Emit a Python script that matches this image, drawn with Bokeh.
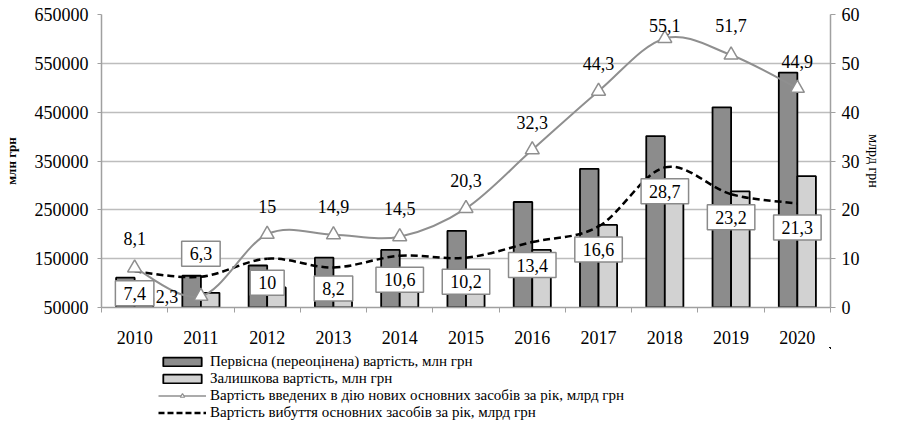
from bokeh.plotting import figure
from bokeh.layouts import column
from bokeh.models import (Range1d, LinearAxis, FixedTicker, ColumnDataSource,
                          Legend, LegendItem, BasicTickFormatter)
from bokeh.core.properties import value
from bokeh.embed import file_html
from bokeh.resources import INLINE

years = ["2010", "2011", "2012", "2013", "2014", "2015", "2016", "2017", "2018", "2019", "2020"]
original_cost = [111000, 115000, 136000, 152000, 168000, 207000, 266000, 334000, 401000, 460000, 531000]
residual_cost = [70000, 80000, 91000, 97000, 105000, 116000, 168000, 219000, 280000, 288000, 319000]
new_assets = [8.1, 2.3, 15, 14.9, 14.5, 20.3, 32.3, 44.3, 55.1, 51.7, 44.9]
disposed = [7.4, 6.3, 10, 8.2, 10.6, 10.2, 13.4, 16.6, 28.7, 23.2, 21.3]

new_labels = ["8,1", "2,3", "15", "14,9", "14,5", "20,3", "32,3", "44,3", "55,1", "51,7", "44,9"]
disp_labels = ["7,4", "6,3", "10", "8,2", "10,6", "10,2", "13,4", "16,6", "28,7", "23,2", "21,3"]
series_names = ["Первісна (переоцінена) вартість, млн грн",
                "Залишкова вартість, млн грн",
                "Вартість введених в дію нових основних засобів за рік, млрд грн",
                "Вартість вибуття основних засобів за рік, млрд грн"]

# label placement (screen px offsets, positive = down)
new_dx = [0, -34, 0, 0, 0, 0, 0, 0, 0, 0, 0]
new_dy = [-29, 0, -28, -28, -28, -28, -27, -28, -13, -30, -27]
disp_dy = [22, -23, 24, 21, 24, 24, 23, 23, 24, 23, 24]

FONT = "Liberation Serif, serif"
FS = "18px"
DARK = "#8c8c8c"
LIGHT = "#d2d2d2"
GRID = "#bdbdbd"
AXIS = "#a0a0a0"
LINE_GRAY = "#8f8f8f"

n = len(years)
idx = list(range(n))
bw = 0.28

p = figure(width=883, height=347, output_backend="svg", toolbar_location=None,
           x_range=Range1d(-0.5, n - 0.5), y_range=Range1d(50000, 650000),
           min_border_left=92, min_border_right=44, min_border_top=14, min_border_bottom=40)
p.outline_line_color = None
p.background_fill_color = "white"
p.extra_y_ranges = {"right": Range1d(0, 60)}

# bars
src_bar = ColumnDataSource(dict(
    xd=[i - bw / 2 for i in idx], xl=[i + bw / 2 for i in idx],
    oc=original_cost, rc=residual_cost))
p.vbar(x="xd", top="oc", bottom=50000, width=bw, source=src_bar,
       fill_color=DARK, line_color="black", line_width=1.8)
p.vbar(x="xl", top="rc", bottom=50000, width=bw, source=src_bar,
       fill_color=LIGHT, line_color="black", line_width=1.8)

def smooth(vals):
    # Catmull-Rom (Excel-like smoothing) converted to cubic Bezier segments
    pts = [(float(i), float(v)) for i, v in zip(idx, vals)]
    ext = [pts[0]] + pts + [pts[-1]]
    d = dict(x0=[], y0=[], x1=[], y1=[], cx0=[], cy0=[], cx1=[], cy1=[])
    for k in range(1, len(ext) - 2):
        p0, p1, p2, p3 = ext[k - 1], ext[k], ext[k + 1], ext[k + 2]
        d["x0"].append(p1[0]); d["y0"].append(p1[1])
        d["x1"].append(p2[0]); d["y1"].append(p2[1])
        d["cx0"].append(p1[0] + (p2[0] - p0[0]) / 6); d["cy0"].append(p1[1] + (p2[1] - p0[1]) / 6)
        d["cx1"].append(p2[0] - (p3[0] - p1[0]) / 6); d["cy1"].append(p2[1] - (p3[1] - p1[1]) / 6)
    return ColumnDataSource(d)

p.bezier(x0="x0", y0="y0", x1="x1", y1="y1", cx0="cx0", cy0="cy0", cx1="cx1", cy1="cy1",
         source=smooth(disposed), y_range_name="right",
         line_color="black", line_width=2.5, line_dash="7 4")
p.bezier(x0="x0", y0="y0", x1="x1", y1="y1", cx0="cx0", cy0="cy0", cx1="cx1", cy1="cy1",
         source=smooth(new_assets), y_range_name="right",
         line_color=LINE_GRAY, line_width=2)
src_pts = ColumnDataSource(dict(x=idx, nv=new_assets, dv=disposed, nl=new_labels, dl=disp_labels,
                                ndx=new_dx, ndy=new_dy, ddy=disp_dy))
p.scatter(x="x", y="nv", source=src_pts, y_range_name="right", marker="triangle",
          size=14, fill_color="white", line_color=LINE_GRAY, line_width=1.5)

# labels
p.text(x="x", y="nv", text="nl", source=src_pts, y_range_name="right",
       x_offset="ndx", y_offset="ndy", text_align="center", text_baseline="middle",
       text_font=value(FONT), text_font_size=FS, text_color="black")
p.text(x="x", y="dv", text="dl", source=src_pts, y_range_name="right",
       y_offset="ddy", text_align="center", text_baseline="middle",
       text_font=value(FONT), text_font_size=FS, text_color="black",
       background_fill_color="white", border_line_color="#8a8a8a",
       border_line_width=1.5, padding=(8, 6))

# axes
xa = p.xaxis[0]
xa.ticker = FixedTicker(ticks=idx, minor_ticks=[i + 0.5 for i in range(-1, n)])
xa.major_label_overrides = {i: y for i, y in zip(idx, years)}
xa.major_tick_line_color = None
xa.major_tick_out = 0
xa.major_tick_in = 0
xa.minor_tick_out = 5
xa.minor_tick_in = 0
xa.minor_tick_line_color = AXIS
xa.axis_line_color = AXIS
xa.axis_line_width = 1.5
xa.major_label_standoff = 18
xa.major_label_text_font = FONT
xa.major_label_text_font_size = FS
xa.major_label_text_color = "black"

ya = p.yaxis[0]
ya.ticker = FixedTicker(ticks=list(range(50000, 650001, 100000)))
ya.formatter = BasicTickFormatter(use_scientific=False)
ya.axis_line_color = AXIS
ya.axis_line_width = 1.5
ya.major_tick_out = 4
ya.major_tick_in = 0
ya.major_tick_line_color = AXIS
ya.minor_tick_line_color = None
ya.major_label_standoff = 9
ya.major_label_text_font = FONT
ya.major_label_text_font_size = FS
ya.major_label_text_color = "black"
ya.axis_label = "млн грн"
ya.axis_label_text_font = FONT
ya.axis_label_text_font_size = "13px"
ya.axis_label_text_font_style = "bold"
ya.axis_label_text_color = "black"
ya.axis_label_standoff = 13

ra = LinearAxis(y_range_name="right", ticker=FixedTicker(ticks=list(range(0, 61, 10))))
ra.axis_line_color = AXIS
ra.axis_line_width = 1.5
ra.major_tick_out = 5
ra.major_tick_in = 0
ra.major_tick_line_color = AXIS
ra.minor_tick_line_color = None
ra.major_label_standoff = 6
ra.major_label_text_font = FONT
ra.major_label_text_font_size = FS
ra.major_label_text_color = "black"
ra.axis_label = "млрд грн"
ra.axis_label_text_font = FONT
ra.axis_label_text_font_size = "14px"
ra.axis_label_text_font_style = "normal"
ra.axis_label_text_color = "black"
ra.axis_label_standoff = 3
p.add_layout(ra, "right")

p.xgrid.grid_line_color = None
p.ygrid.grid_line_color = GRID
p.ygrid.grid_line_width = 1.5

# legend panel: a separate figure under the chart; its series keys lie outside its view
lg = figure(width=883, height=74, output_backend="svg", toolbar_location=None,
            x_range=Range1d(-3, -2), y_range=Range1d(-3, -2),
            x_axis_location=None, y_axis_location=None,
            min_border=0, min_border_left=0, min_border_right=0, min_border_top=0, min_border_bottom=0)
lg.grid.visible = False
lg.outline_line_color = None
k_dark = lg.vbar(x=idx, top=original_cost, width=bw, fill_color=DARK, line_color="black", line_width=1.8)
k_light = lg.vbar(x=idx, top=residual_cost, width=bw, fill_color=LIGHT, line_color="black", line_width=1.8)
k_new = lg.line(x=idx, y=new_assets, line_color=LINE_GRAY, line_width=1.5)
k_tri = lg.scatter(x=idx, y=new_assets, marker="triangle", size=10, fill_color="white",
                   line_color=LINE_GRAY, line_width=1.2)
k_disp = lg.line(x=idx, y=disposed, line_color="black", line_width=2.5, line_dash="6 3")

legend = Legend(items=[
    LegendItem(label=series_names[0], renderers=[k_dark]),
    LegendItem(label=series_names[1], renderers=[k_light]),
    LegendItem(label=series_names[2], renderers=[k_new, k_tri]),
    LegendItem(label=series_names[3], renderers=[k_disp]),
], location=(57, 0), orientation="vertical")
legend.label_text_font = FONT
legend.label_text_font_size = "15px"
legend.label_text_color = "black"
legend.glyph_width = 48
legend.glyph_height = 11
legend.label_standoff = 4
legend.label_height = 16
legend.spacing = 0
legend.padding = 0
legend.margin = 0
legend.border_line_color = None
legend.background_fill_alpha = 0
lg.add_layout(legend, "center")

layout = column(p, lg, spacing=0)
open("out.html", "w").write(file_html(layout, INLINE))
